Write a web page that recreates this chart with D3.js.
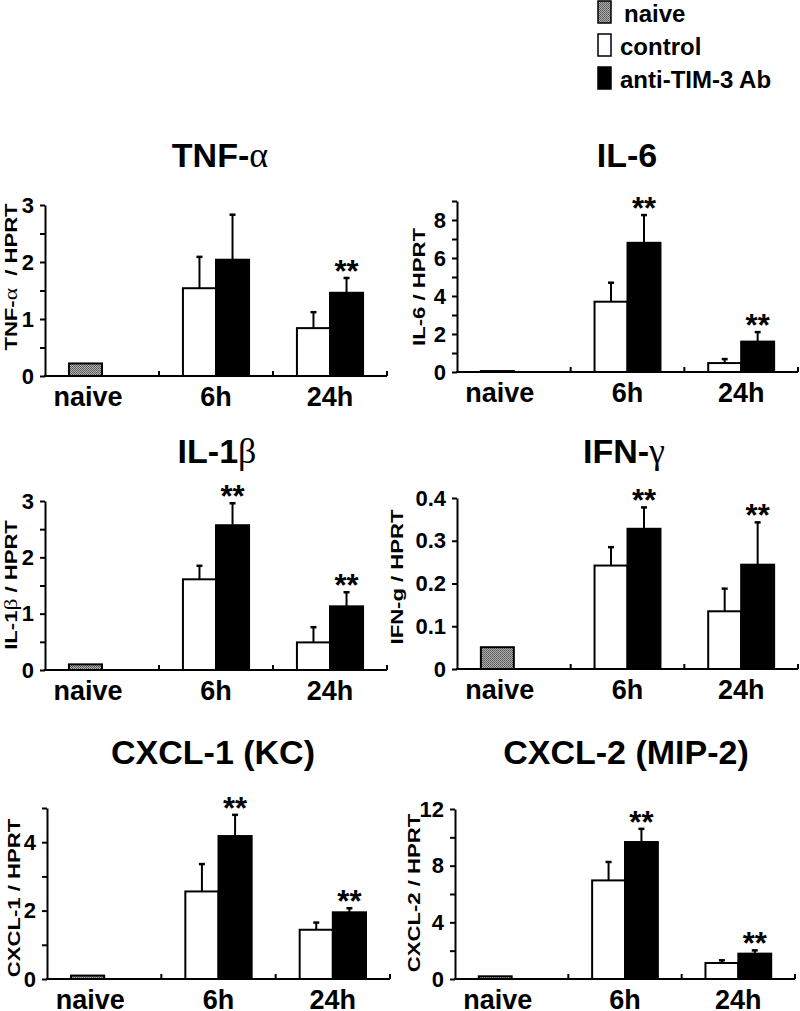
<!DOCTYPE html>
<html><head><meta charset="utf-8">
<script src="https://cdn.jsdelivr.net/npm/d3@7"></script>
<style>
body{margin:0;background:#fff}
svg{display:block}
text{font-family:"Liberation Sans",Arial,sans-serif;font-weight:bold;fill:#000}
</style>
</head><body>
<svg id="c" width="800" height="1011"></svg>
<script>
// ---------- data ----------
const categories = ["naive", "6h", "24h"];
const groups = ["control", "anti-TIM-3 Ab"];
const legendLabels = ["naive", "control", "anti-TIM-3 Ab"];
// title pieces: [latin, greek]
const titles = [["TNF-", "α"], ["IL-6", ""], ["IL-1", "β"], ["IFN-", "γ"], ["CXCL-1 (KC)", ""], ["CXCL-2 (MIP-2)", ""]];
// y label pieces: [latin, greek, latin]
const yLabels = [["TNF-", "α", "  / HPRT"], ["IL-6 / HPRT", "", ""], ["IL-1", "β", " / HPRT"], ["IFN-g / HPRT", "", ""], ["CXCL-1 / HPRT", "", ""], ["CXCL-2 / HPRT", "", ""]];
const yMax = [3, 9, 3, 0.4, 5, 12];
const majorTicks = [[0, 1, 2, 3], [0, 2, 4, 6, 8], [0, 1, 2, 3], [0, 0.1, 0.2, 0.3, 0.4], [0, 2, 4], [0, 4, 8, 12]];
const minorTicks = [[0.5, 1.5, 2.5], [1, 3, 5, 7, 9], [0.5, 1.5, 2.5], [], [1, 3, 5], [2, 6, 10]];
const naiveValues = [0.22, 0.05, 0.1, 0.051, 0.1, 0.19];
// [6h, 24h]
const controlValues = [[1.54, 0.84], [3.7, 0.47], [1.61, 0.49], [0.242, 0.135], [2.56, 1.44], [6.96, 1.13]];
const controlErr   = [[0.55, 0.28], [1.0, 0.21], [0.24, 0.27], [0.043, 0.053], [0.8, 0.21], [1.3, 0.19]];
const antiValues   = [[2.04, 1.46], [6.8, 1.6], [2.57, 1.13], [0.328, 0.244], [4.18, 1.95], [9.67, 1.79]];
const antiErr      = [[0.79, 0.26], [1.46, 0.5], [0.39, 0.25], [0.05, 0.099], [0.62, 0.12], [0.93, 0.23]];
const significant  = [[false, true], [true, true], [true, true], [true, true], [true, true], [true, true]];

// ---------- layout ----------
const frames = [
  {x0: 45,  x1: 387, top: 205, base: 376, ty: 167, tx: 220, lx: 11,  ly: 277},
  {x0: 457, x1: 798, top: 201, base: 372, ty: 167, tx: 627, lx: 419, ly: 287},
  {x0: 45,  x1: 387, top: 501, base: 670, ty: 463, tx: 217, lx: 11,  ly: 585},
  {x0: 457, x1: 798, top: 498, base: 669, ty: 463, tx: 624, lx: 397, ly: 577},
  {x0: 47,  x1: 390, top: 808, base: 979, ty: 764, tx: 213, lx: 14,  ly: 898},
  {x0: 455, x1: 795, top: 809, base: 979, ty: 764, tx: 626, lx: 414, ly: 893}
];

const svg = d3.select("#c");
const defs = svg.append("defs");
const pat = defs.append("pattern").attr("id", "dots").attr("patternUnits", "userSpaceOnUse")
  .attr("width", 2).attr("height", 2);
pat.append("rect").attr("width", 2).attr("height", 2).attr("fill", "#b0b0b0");
pat.append("rect").attr("width", 1).attr("height", 1).attr("fill", "#555");
pat.append("rect").attr("x", 1).attr("y", 1).attr("width", 1).attr("height", 1).attr("fill", "#666");

// ---------- legend ----------
const legendFill = ["url(#dots)", "#fff", "#000"];
const lg = svg.append("g");
legendLabels.forEach((lab, i) => {
  const yy = 1 + i * 33;
  lg.append("rect").attr("x", 598).attr("y", yy).attr("width", 13).attr("height", 22)
    .attr("fill", legendFill[i]).attr("stroke", "#000").attr("stroke-width", 1.5);
  lg.append("text").attr("x", i === 0 ? 624 : 620).attr("y", yy + 21).attr("font-size", 24).text(lab);
});

// ---------- panels ----------
frames.forEach((f, p) => {
  const g = svg.append("g");
  const x = d3.scaleBand().domain(categories).range([f.x0, f.x1]).padding(0);
  const bw = x.bandwidth();
  const inner = d3.scaleBand().domain(groups).range([bw * 0.21, bw * 0.79]).padding(0);
  const y = d3.scaleLinear().domain([0, yMax[p]]).range([f.base, f.top]);

  // title
  const t = g.append("text").attr("x", f.tx).attr("y", f.ty).attr("text-anchor", "middle").attr("font-size", 34);
  t.append("tspan").text(titles[p][0]);
  if (titles[p][1]) t.append("tspan").attr("font-family", "'Liberation Serif',serif").attr("font-weight", "normal")
      .attr("font-size", 36).text(titles[p][1]);

  // y label (stretched along reading direction)
  const yl = g.append("text").attr("text-anchor", "middle").attr("dominant-baseline", "central")
    .attr("font-size", 17).attr("transform", `translate(${f.lx},${f.ly}) rotate(-90) scale(1.3,1)`);
  yl.append("tspan").text(yLabels[p][0]);
  if (yLabels[p][1]) yl.append("tspan").attr("font-family", "'Liberation Serif',serif").attr("font-weight", "normal")
      .attr("font-size", 18).text(yLabels[p][1]);
  if (yLabels[p][2]) yl.append("tspan").attr("xml:space", "preserve").style("white-space", "pre").text(yLabels[p][2]);

  // bars
  const barData = [];
  barData.push({cat: categories[0], grp: groups[0], v: naiveValues[p], e: 0, fill: "url(#dots)", sig: false});
  [1, 2].forEach(k => {
    barData.push({cat: categories[k], grp: groups[0], v: controlValues[p][k - 1], e: controlErr[p][k - 1], fill: "#fff", sig: false});
    barData.push({cat: categories[k], grp: groups[1], v: antiValues[p][k - 1], e: antiErr[p][k - 1], fill: "#000", sig: significant[p][k - 1]});
  });

  // error bars
  barData.filter(d => d.e > 0).forEach(d => {
    const cx = x(d.cat) + inner(d.grp) + inner.bandwidth() / 2;
    g.append("line").attr("x1", cx).attr("x2", cx).attr("y1", y(d.v)).attr("y2", y(d.v + d.e))
      .attr("stroke", "#000").attr("stroke-width", 2);
    g.append("line").attr("x1", cx - 3).attr("x2", cx + 3).attr("y1", y(d.v + d.e)).attr("y2", y(d.v + d.e))
      .attr("stroke", "#000").attr("stroke-width", 2.5);
  });

  g.selectAll("rect.bar").data(barData).join("rect").attr("class", "bar")
    .attr("x", d => x(d.cat) + inner(d.grp))
    .attr("width", inner.bandwidth())
    .attr("y", d => y(d.v))
    .attr("height", d => f.base - y(d.v))
    .attr("fill", d => d.fill).attr("stroke", "#000").attr("stroke-width", 2);

  // significance
  barData.filter(d => d.sig).forEach(d => {
    const cx = x(d.cat) + inner(d.grp) + inner.bandwidth() / 2;
    g.append("text").attr("x", cx).attr("y", y(d.v + d.e) + 4).attr("text-anchor", "middle")
      .attr("font-size", 31).text("**");
  });

  // y axis
  const ya = g.append("g").attr("transform", `translate(${f.x0},0)`)
    .call(d3.axisLeft(y).tickValues(majorTicks[p]).tickSize(5).tickSizeOuter(0).tickPadding(6).tickFormat(d => String(d)));
  ya.select(".domain").attr("stroke-width", 2);
  ya.selectAll(".tick line").attr("stroke-width", 2);
  ya.selectAll(".tick text").attr("font-size", 22).attr("font-family", null);
  const ym = g.append("g").attr("transform", `translate(${f.x0},0)`)
    .call(d3.axisLeft(y).tickValues(minorTicks[p]).tickSize(5).tickSizeOuter(0).tickFormat(""));
  ym.select(".domain").remove();
  ym.selectAll(".tick line").attr("stroke-width", 2);

  // x axis
  g.append("line").attr("x1", f.x0 - 1).attr("x2", f.x1).attr("y1", f.base).attr("y2", f.base)
    .attr("stroke", "#000").attr("stroke-width", 2);
  const xt = categories.slice(1).map(c => x(c)).concat([f.x1]);
  g.selectAll("line.xt").data(xt).join("line").attr("class", "xt")
    .attr("x1", d => d).attr("x2", d => d).attr("y1", f.base).attr("y2", f.base - 5)
    .attr("stroke", "#000").attr("stroke-width", 2);
  g.selectAll("text.xl").data(categories).join("text").attr("class", "xl")
    .attr("x", d => x(d) + bw / 2 - (d === "naive" ? 14 : 0))
    .attr("y", f.base + 30).attr("text-anchor", "middle").attr("font-size", 27).text(d => d);
});
</script>
</body></html>
